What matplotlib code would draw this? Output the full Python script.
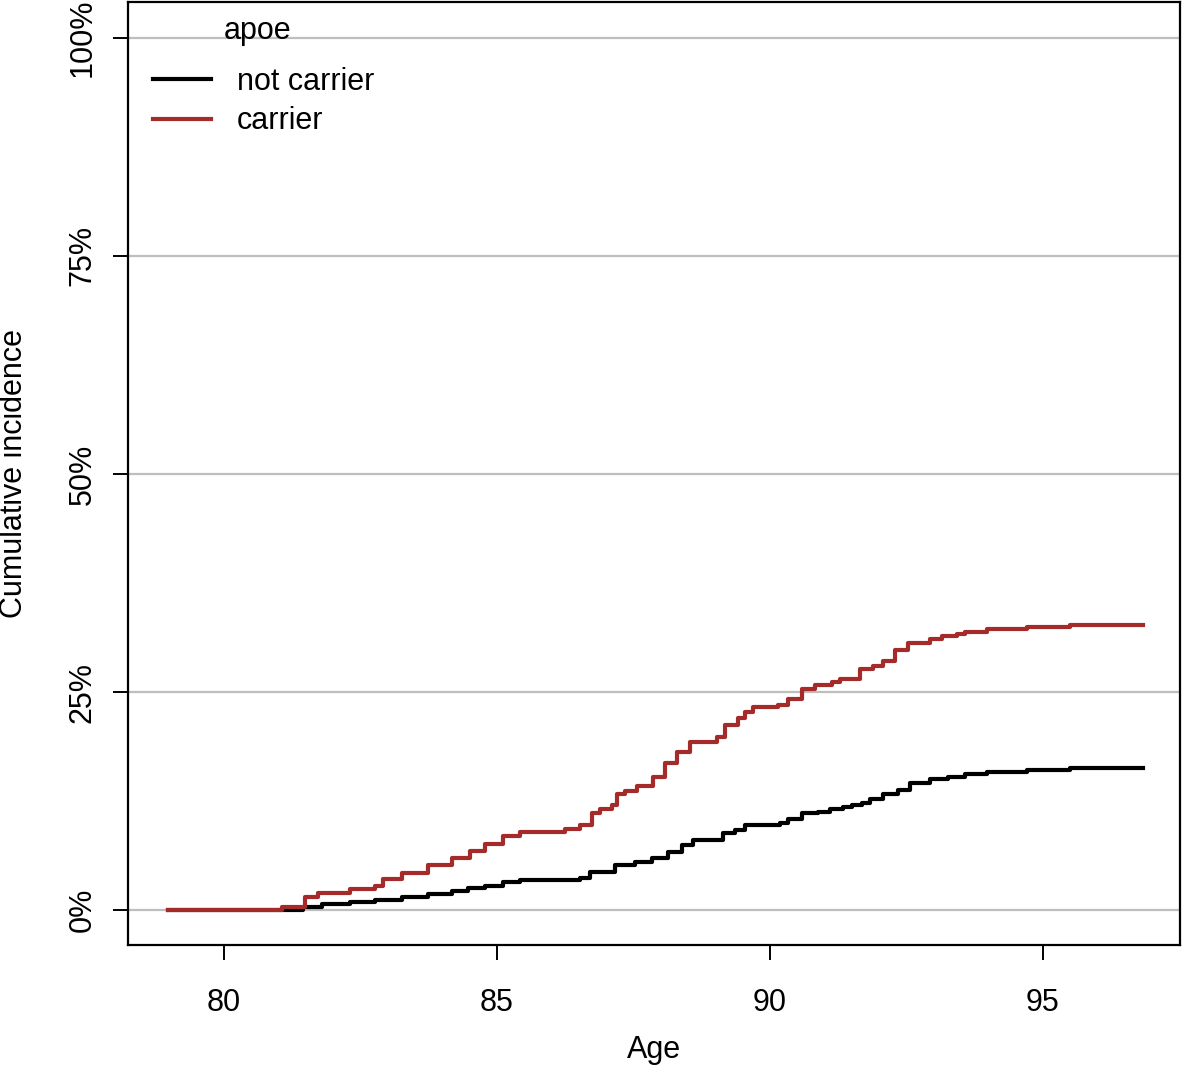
import matplotlib.pyplot as plt
from matplotlib.ticker import PercentFormatter

plt.rcParams['font.family'] = ['Liberation Sans', 'DejaVu Sans']

# step curves: age where each step starts, cumulative incidence (%)
carrier_age = [78.97, 81.06, 81.48, 81.72, 82.31, 82.77, 82.91, 83.26, 83.74, 84.18,
               84.51, 84.78, 85.11, 85.42, 86.25, 86.52, 86.74, 86.89, 87.11, 87.20,
               87.34, 87.56, 87.86, 88.08, 88.30, 88.53, 89.03, 89.18, 89.41, 89.54,
               89.69, 90.15, 90.33, 90.59, 90.82, 91.14, 91.28, 91.65, 91.89, 92.07,
               92.29, 92.53, 92.93, 93.15, 93.42, 93.57, 93.97, 94.71, 95.49, 96.83]
carrier_inc = [0.0, 0.35, 1.5, 2.0, 2.4, 2.75, 3.55, 4.3, 5.2, 6.0,
               6.8, 7.6, 8.5, 8.9, 9.3, 9.7, 11.1, 11.6, 12.0, 13.3,
               13.6, 14.2, 15.3, 16.9, 18.1, 19.3, 19.9, 21.2, 22.0, 22.7,
               23.3, 23.5, 24.2, 25.4, 25.8, 26.1, 26.5, 27.6, 28.0, 28.6,
               29.8, 30.6, 31.1, 31.4, 31.6, 31.9, 32.2, 32.4, 32.7, 32.7]

noncarrier_age = [78.97, 81.45, 81.79, 82.31, 82.77, 83.26, 83.74, 84.18, 84.47, 84.78,
                  85.11, 85.42, 86.52, 86.70, 87.16, 87.53, 87.84, 88.13, 88.39, 88.59,
                  89.14, 89.36, 89.54, 90.18, 90.33, 90.59, 90.88, 91.10, 91.34, 91.50,
                  91.68, 91.83, 92.07, 92.34, 92.56, 92.93, 93.26, 93.57, 93.97, 94.71,
                  95.49, 96.83]
noncarrier_inc = [0.0, 0.35, 0.7, 0.9, 1.15, 1.5, 1.9, 2.2, 2.5, 2.75,
                  3.2, 3.5, 3.7, 4.4, 5.2, 5.5, 6.0, 6.7, 7.5, 8.0,
                  8.8, 9.2, 9.7, 10.0, 10.4, 11.1, 11.3, 11.6, 11.8, 12.0,
                  12.3, 12.7, 13.3, 13.8, 14.6, 15.0, 15.3, 15.6, 15.8, 16.1,
                  16.3, 16.3]

x_ticks = [80, 85, 90, 95]
y_ticks = [0, 25, 50, 75, 100]

fig = plt.figure(figsize=(11.82, 10.65), dpi=100)
ax = fig.add_axes([128 / 1182, 1 - 945 / 1065, (1180 - 128) / 1182, (945 - 2) / 1065])

for y in y_ticks:
    ax.axhline(y, color='#bebebe', lw=1.6, zorder=1)

ax.step(noncarrier_age, noncarrier_inc, where='post', color='black', lw=3.0,
        label='not carrier', zorder=3)
ax.step(carrier_age, carrier_inc, where='post', color='#a52a2a', lw=3.0,
        label='carrier', zorder=4)

ax.set_xlim(78.24, 97.51)
ax.set_ylim(-4.0, 104.1)
ax.set_xticks(x_ticks)
ax.set_yticks(y_ticks)
ax.yaxis.set_major_formatter(PercentFormatter(decimals=0))

for s in ax.spines.values():
    s.set_linewidth(1.6)

ax.tick_params(axis='both', direction='out', length=11, width=1.4, labelsize=22)
ax.tick_params(axis='x', pad=20)
ax.tick_params(axis='y', pad=11)
for lab in ax.get_yticklabels():
    lab.set_rotation(90)
    lab.set_va('center')

ax.set_xlabel('Age', fontsize=22, labelpad=12)
ax.set_ylabel('Cumulative incidence', fontsize=22, va='center')
ax.yaxis.set_label_coords(-0.108, 0.5)

# legend title drawn on its own so the gap below it matches R's layout
ax.text(0.123, 0.969, 'apoe', transform=ax.transAxes, fontsize=22,
        ha='center', va='center')
leg = ax.legend(loc='upper left', bbox_to_anchor=(0.012, 0.944),
                borderaxespad=0, frameon=False, fontsize=22,
                handlelength=1.9, handletextpad=0.85, labelspacing=0.3)
for h in leg.get_lines():
    h.set_linewidth(3.0)

fig.savefig('out.png', dpi=100)
